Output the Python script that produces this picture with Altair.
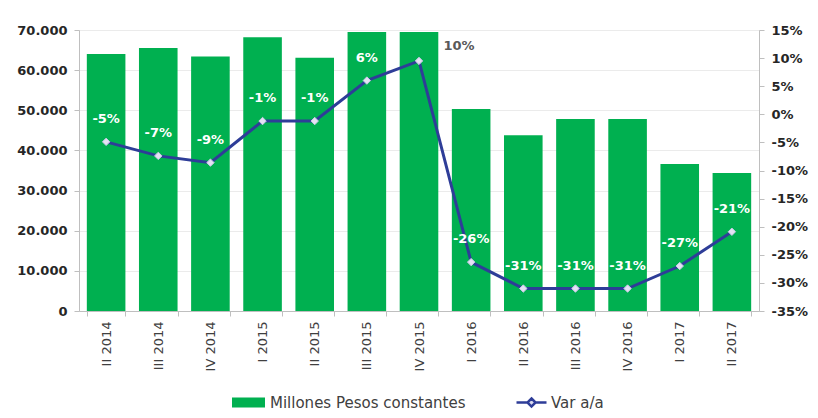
import altair as alt
import pandas as pd

quarters = ["II 2014", "III 2014", "IV 2014", "I 2015", "II 2015", "III 2015", "IV 2015",
            "I 2016", "II 2016", "III 2016", "IV 2016", "I 2017", "II 2017"]
millones = [64000, 65500, 63400, 68200, 63100, 69500, 69500,
            50300, 43800, 47800, 47800, 36600, 34400]
var_aa = [-4.9, -7.4, -8.6, -1.2, -1.2, 6.0, 9.5,
          -26.3, -31.0, -31.0, -31.0, -27.0, -20.9]
var_labels = ["-5%", "-7%", "-9%", "-1%", "-1%", "6%", "10%",
              "-26%", "-31%", "-31%", "-31%", "-27%", "-21%"]
left_ticks = [0, 10000, 20000, 30000, 40000, 50000, 60000, 70000]
right_ticks = [-35, -30, -25, -20, -15, -10, -5, 0, 5, 10, 15]

df = pd.DataFrame({
    "q": quarters,
    "m": millones,
    "v": var_aa,
    "lab": var_labels,
    "s_bar": "Millones Pesos constantes",
    "s_line": "Var a/a",
})

FONT = "DejaVu Sans"
GREEN = "#00b050"
BLUE = "#2e3d98"
TXT = "#404040"

x = alt.X("q:N", sort=quarters, title=None,
          scale=alt.Scale(paddingInner=0.26, paddingOuter=0.15),
          axis=alt.Axis(labelAngle=-90, labelFontSize=13, labelColor=TXT, labelFont=FONT,
                        tickBand="extent", tickSize=5, tickColor="#bfbfbf",
                        domainColor="#bfbfbf", labelPadding=5, grid=False))

bars = alt.Chart(df).mark_bar(color=GREEN).encode(
    x=x,
    y=alt.Y("m:Q", title=None,
            scale=alt.Scale(domain=[0, 70000], nice=False),
            axis=alt.Axis(values=left_ticks, orient="left",
                          labelExpr="replace(format(datum.value, ',d'), ',', '.')",
                          labelFontSize=13, labelFontWeight="bold", labelColor="#262626",
                          labelFont=FONT, tickSize=5, tickColor="#bfbfbf", labelPadding=7,
                          domainColor="#bfbfbf", grid=True, gridColor="#ebebeb")),
    fill=alt.Fill("s_bar:N", scale=alt.Scale(domain=["Millones Pesos constantes"], range=[GREEN]),
                  legend=alt.Legend(orient="none", legendX=153, legendY=356, title=None,
                                    symbolType="M-1,-0.3H1V0.3H-1Z", symbolSize=1089,
                                    symbolStrokeWidth=0, labelFontSize=15, labelColor=TXT,
                                    labelFont=FONT, labelOffset=5, labelLimit=400)),
)

yr = alt.Y("v:Q", title=None,
           scale=alt.Scale(domain=[-35, 15], nice=False),
           axis=alt.Axis(values=right_ticks, orient="right", labelExpr="datum.value + '%'",
                         labelFontSize=13, labelFontWeight="bold", labelColor="#262626",
                         labelFont=FONT, tickSize=5, tickColor="#bfbfbf", labelPadding=7,
                         domainColor="#bfbfbf", grid=False))

line = alt.Chart(df).mark_line(strokeWidth=3).encode(
    x=x, y=yr,
    stroke=alt.Stroke("s_line:N", scale=alt.Scale(domain=["Var a/a"], range=[BLUE]),
                      legend=alt.Legend(orient="none", legendX=436, legendY=356, title=None,
                                        symbolType="M-1,0H-0.27M0.27,0H1M0,-0.27L0.27,0L0,0.27L-0.27,0Z",
                                        symbolSize=900, symbolStrokeWidth=2.5,
                                        symbolFillColor="#dcdcf0",
                                        labelFontSize=15, labelColor=TXT, labelFont=FONT,
                                        labelOffset=3, labelLimit=200)),
)

pts = alt.Chart(df).mark_point(shape="diamond", filled=True, fill="#e4e2f4",
                               stroke="#c8c6e6", strokeWidth=1, size=55, opacity=1).encode(
    x=x, y=yr)

labels_in = alt.Chart(df).transform_filter("datum.v < 8").mark_text(
    color="white", fontWeight="bold", fontSize=13, font=FONT, dy=-23).encode(
    x=x, y=yr, text="lab:N")

labels_out = alt.Chart(df).transform_filter("datum.v >= 8").mark_text(
    color="#595959", fontWeight="bold", fontSize=13, font=FONT, dx=40, dy=-15).encode(
    x=x, y=yr, text="lab:N")

right_layer = alt.layer(line, pts, labels_in, labels_out)

chart = alt.layer(bars, right_layer).resolve_scale(y="independent").properties(
    width=680, height=281,
    autosize=alt.AutoSizeParams(type="none"),
    padding={"left": 71, "top": 22, "right": 51, "bottom": 99},
).configure_view(stroke=None).configure(background="white")

chart.save("out.html", embed_options={"renderer": "svg", "actions": False})
